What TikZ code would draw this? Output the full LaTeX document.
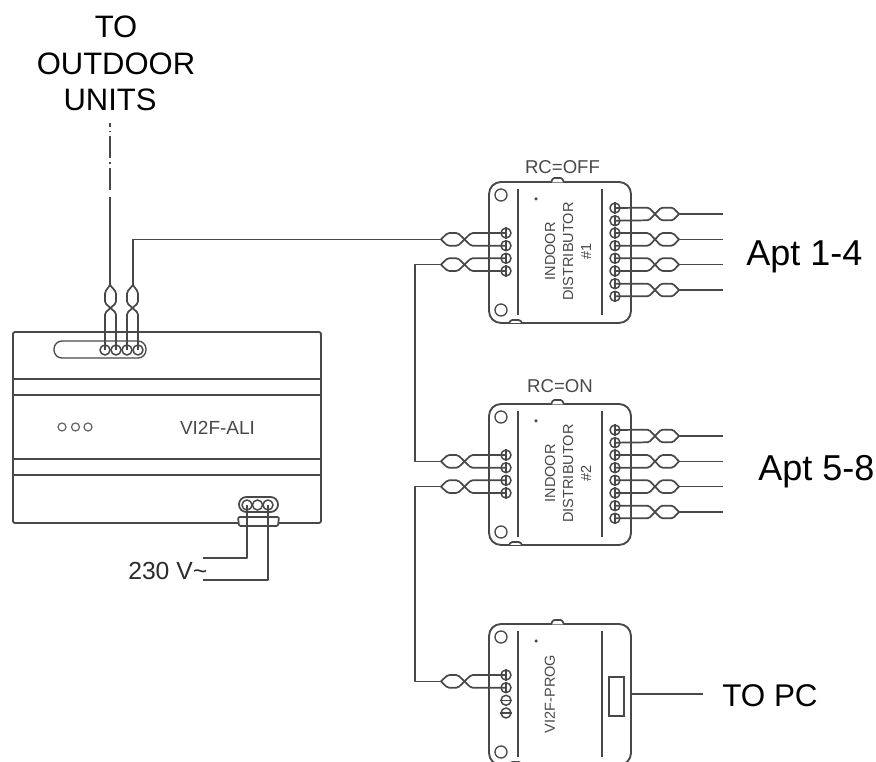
\documentclass[tikz,border=0pt]{standalone}
\usepackage{fontspec}
\setmainfont{Liberation Sans}
\def\px{0.75pt}
\definecolor{ink}{HTML}{484848}
\newcommand{\pxfont}[1]{\pgfmathsetmacro\tmpfs{#1*0.75}\pgfmathsetmacro\tmpls{#1*0.75*1.18}\fontsize{\tmpfs pt}{\tmpls pt}\selectfont}
\tikzset{
  x=0.75pt,y=-0.75pt,
  wire/.style={draw=ink,line width=1.3pt,line join=round},
  thin wire/.style={draw=ink,line width=1pt},
  housing/.style={draw=ink,line width=1.4pt,fill=white,inner sep=0pt,rectangle,rounded corners=9pt,minimum width=142*\px,minimum height=141*\px},
  mainbox/.style={draw=ink,line width=1.4pt,inner sep=0pt,rectangle,rounded corners=1.5pt,minimum width=308*\px,minimum height=191*\px},
  term/.style={draw=ink,circle,line width=1.1pt,fill=white,inner sep=0pt,minimum size=10*\px},
  hole/.style={draw=ink,circle,line width=1pt,inner sep=0pt,minimum size=12*\px},
  led/.style={draw=ink!85,circle,line width=0.9pt,inner sep=0pt,minimum size=8*\px},
  pin/.style={fill=ink,circle,inner sep=0pt,minimum size=3.5*\px},
  smalltext/.style={text=ink,inner sep=0pt,align=center},
  bigtext/.style={text=black,inner sep=0pt,align=center},
}
% module body: prefix, y offset
\newcommand{\modulebody}[2]{%
  \node[housing] (#1box) at (560,{252.5+#2}) {};
  \draw[wire,fill=white,rounded corners=1pt] (551,{182.5+#2}) -- (553,{178+#2}) -- (562,{178+#2}) -- (564,{182.5+#2});
  \draw[wire,fill=white,rounded corners=1pt] (509,{323+#2}) -- (511,{320+#2}) -- (520,{320+#2}) -- (522,{323+#2});
  \node[hole] (#1holeA) at (501,{195+#2}) {};
  \node[hole] (#1holeB) at (501,{310+#2}) {};
  \node[pin] (#1pin) at (536,{199+#2}) {};
  \draw[wire] (518,{189+#2}) -- (518,{315.5+#2});
  \draw[wire] (602,{189+#2}) -- (602,{315.5+#2});
  \foreach \n/\yy in {1/233,2/245.7,3/258.3,4/271}{
    \node[term] (#1L\n) at (506,{\yy+#2}) {};
  }
}
\newcommand{\rightterms}[2]{%
  \foreach \n/\yy in {1/208,2/220.7,3/233,4/245.7,5/258.3,6/271,7/283.7,8/296.3}{
    \node[term] (#1R\n) at (615,{\yy+#2}) {};
  }
}
% left twisted pair: first terminal, second terminal, junction coordinate (name), y centre
\newcommand{\twistleft}[4]{%
  \coordinate (#3) at (441,#4);
  \draw[wire,rounded corners=1.2pt] (#3) -- ++(6.5,-6.3) -- ++(10.5,0) -- ++(13,12.6) -- (#2.center);
  \draw[wire,rounded corners=1.2pt] (#3) -- ++(6.5,6.3) -- ++(10.5,0) -- ++(13,-12.6) -- (#1.center);
  \draw[thin wire] (#1.north) -- (#1.south) (#2.north) -- (#2.south);
}
% right twisted pair: first terminal, second terminal, free end (name), y centre
\newcommand{\twistright}[4]{%
  \coordinate (#3tw) at (679,#4);
  \coordinate (#3) at (723,#4);
  \draw[wire,rounded corners=1.2pt] (#1.center) -- (649,{#4-6.3}) -- (661,{#4+6.3}) -- (673,{#4+6.3}) -- (#3tw);
  \draw[wire,rounded corners=1.2pt] (#2.center) -- (649,{#4+6.3}) -- (661,{#4-6.3}) -- (673,{#4-6.3}) -- (#3tw);
  \draw[wire] (#3tw) -- (#3);
  \draw[thin wire] (#1.north) -- (#1.south) (#2.north) -- (#2.south);
}
% upward twisted pair
\newcommand{\twistup}[4]{%
  \coordinate (#3) at (#4,285);
  \draw[wire,rounded corners=1.2pt] (#1.center) -- (#1|-0,313) -- (#2|-0,303) -- (#2|-0,292) -- (#3);
  \draw[wire,rounded corners=1.2pt] (#2.center) -- (#2|-0,313) -- (#1|-0,303) -- (#1|-0,292) -- (#3);
}
\begin{document}
\begin{tikzpicture}
\useasboundingbox (0,0) rectangle (876,762);
\begin{scope}
\clip (0,0) rectangle (876,762);

% ---- main unit
\node[mainbox] (ali) at (167,427.5) {};
\draw[wire] (ali.west|-0,379) -- (ali.east|-0,379);
\draw[wire] (ali.west|-0,395) -- (ali.east|-0,395);
\draw[wire] (ali.west|-0,459) -- (ali.east|-0,459);
\draw[wire] (ali.west|-0,475) -- (ali.east|-0,475);
\draw[thin wire,rounded corners=6pt] (54,341) rectangle (146,358);
\foreach \n/\xx in {1/105,2/116,3/127,4/138}{
  \node[term] (a\n) at (\xx,350) {};
}
\node[led] (led1) at (62,427) {};
\node[led] (led2) at (75.5,427) {};
\node[led] (led3) at (88,427) {};
\node[smalltext,font=\pxfont{19}] (alilabel) at (217.5,427.5) {VI2F-ALI};

% power connector
\draw[wire,fill=white,rounded corners=5.5pt] (239,497) rectangle (278,512);
\node[term] (p1) at (247,505) {};
\node[term] (p2) at (257.5,505) {};
\node[term] (p3) at (268,505) {};
\draw[wire,fill=white,rounded corners=1pt] (238,517) -- (279,517) -- (278,526) -- (239,526) -- cycle;
\coordinate (pw1) at (203,558);
\coordinate (pw2) at (203,580);
\draw[wire] (p1.center) |- (pw1);
\draw[wire] (p3.center) |- (pw2);
\node[bigtext,text=ink!60!black,anchor=west,font=\pxfont{24.7}] (mains) at (128,571) {230 V\symbol{126}};

% ---- outdoor riser
\twistup{a1}{a2}{tA}{110}
\twistup{a3}{a4}{tB}{133}
\coordinate (riser) at (110,197);
\coordinate (riserGap) at (110,190);
\coordinate (riserTop) at (110,123);
\draw[wire] (tA) -- (riser);
\draw[wire,dash pattern=on 16.5pt off 3pt on 1.3pt off 3pt] (riserGap) -- (riserTop);

% ---- modules
\modulebody{m}{0}
\rightterms{m}{0}
\modulebody{n}{222}
\rightterms{n}{222}
\modulebody{q}{442}

\node[smalltext,rotate=90,font=\pxfont{14.5}] (mlabel) at (568,251.5) {INDOOR\\[0.7pt]DISTRIBUTOR\\[0.7pt]\#1};
\node[smalltext,rotate=90,font=\pxfont{14.5}] (nlabel) at (568,473.5) {INDOOR\\[0.7pt]DISTRIBUTOR\\[0.7pt]\#2};
\node[smalltext,rotate=90,font=\pxfont{14.5}] (qlabel) at (550,694) {VI2F-PROG};
\node[smalltext,font=\pxfont{18.6}] (mrc) at (562.5,167) {RC=OFF};
\node[smalltext,font=\pxfont{18.6}] (nrc) at (560,386) {RC=ON};

% ---- bus
\twistleft{mL1}{mL2}{mA}{239.4}
\twistleft{mL3}{mL4}{mB}{264.6}
\twistleft{nL1}{nL2}{nA}{461.4}
\twistleft{nL3}{nL4}{nB}{486.6}
\twistleft{qL1}{qL2}{qA}{681.4}
\draw[thin wire] (qL3.west) -- (qL3.east) (qL4.west) -- (qL4.east);
\draw[wire] (tB) |- (mA);
\coordinate (busA) at (415,264.6);
\coordinate (busB) at (415,486.6);
\draw[wire] (mB) -- (busA) |- (nA);
\draw[wire] (nB) -- (busB) |- (qA);

% ---- outgoing apartment lines
\twistright{mR1}{mR2}{mo1}{214}
\twistright{mR3}{mR4}{mo2}{239.4}
\twistright{mR5}{mR6}{mo3}{264.6}
\twistright{mR7}{mR8}{mo4}{290}
\twistright{nR1}{nR2}{no1}{436}
\twistright{nR3}{nR4}{no2}{461.4}
\twistright{nR5}{nR6}{no3}{486.6}
\twistright{nR7}{nR8}{no4}{512}

% ---- programmer USB
\node[draw=ink,line width=1.1pt,rectangle,inner sep=0pt,minimum width=15*\px,minimum height=39*\px] (usb) at (616.5,696.5) {};
\coordinate (pcEnd) at (703,694);
\draw[wire] (qbox.east|-pcEnd) -- (pcEnd);

% ---- big labels
\node[bigtext,font=\pxfont{31}] (outdoor) at (116,63.5) {TO\\OUTDOOR\\UNITS\hspace*{9pt}};
\node[bigtext,anchor=west,font=\pxfont{36}] (apt1) at (746,257) {Apt 1-4};
\node[bigtext,anchor=west,font=\pxfont{36}] (apt2) at (758,472) {Apt 5-8};
\node[bigtext,anchor=west,font=\pxfont{31.4}] (topc) at (722,696) {TO PC};
\end{scope}
\end{tikzpicture}
\end{document}
